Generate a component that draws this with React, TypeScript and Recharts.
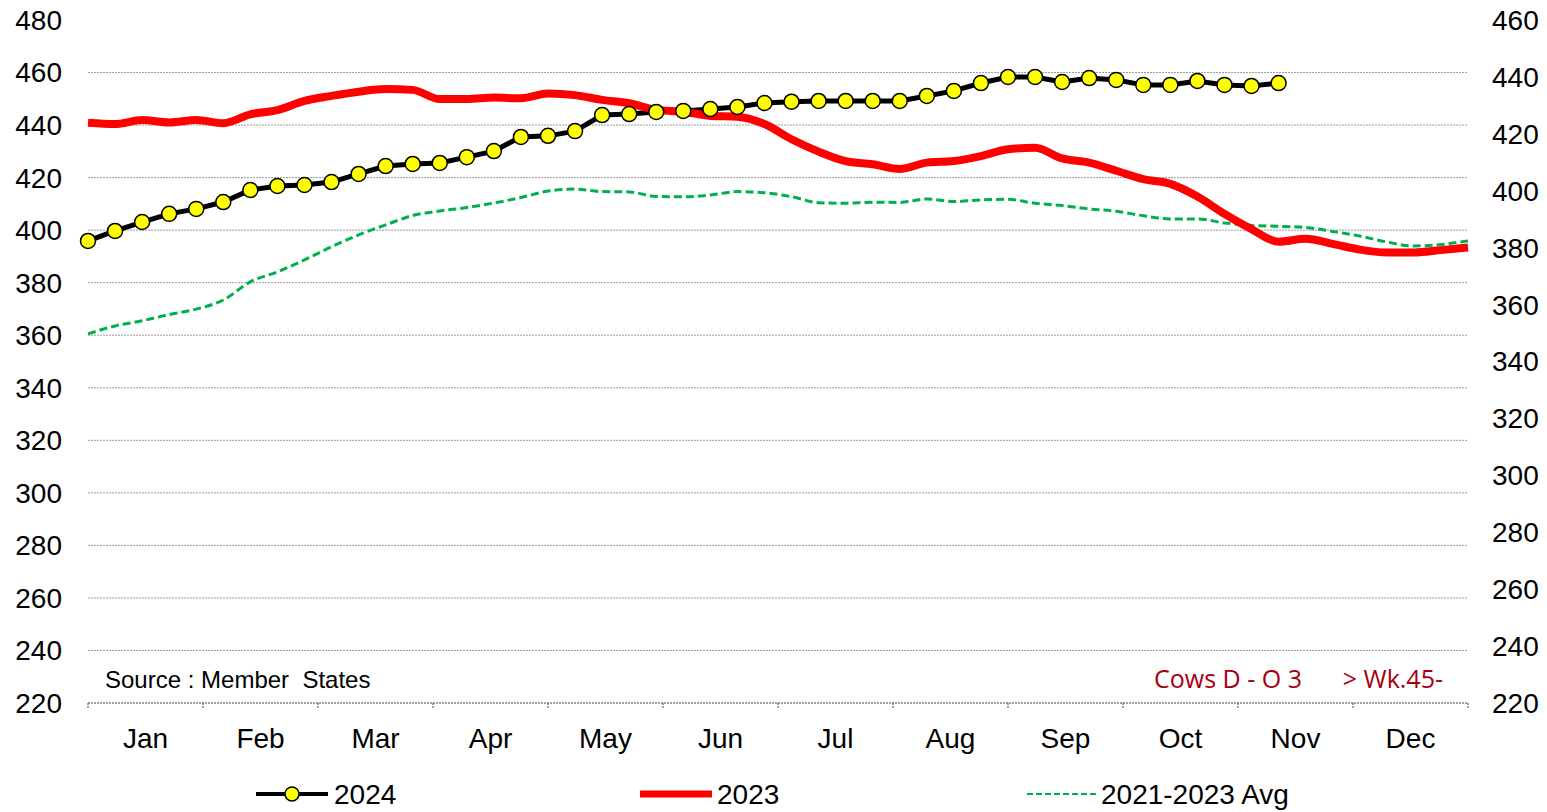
import { LineChart, Line, XAxis, YAxis, CartesianGrid, Customized } from 'recharts';

const weeks = Array.from({ length: 52 }, (_, i) => i + 1);
const months = ['Jan', 'Feb', 'Mar', 'Apr', 'May', 'Jun', 'Jul', 'Aug', 'Sep', 'Oct', 'Nov', 'Dec'];
const monthTicks = [1, 5.25, 9.5, 13.75, 18, 22.25, 26.5, 30.75, 35, 39.25, 43.5, 47.75, 52];
const leftTicks = [220, 240, 260, 280, 300, 320, 340, 360, 380, 400, 420, 440, 460, 480];
const rightTicks = [220, 240, 260, 280, 300, 320, 340, 360, 380, 400, 420, 440, 460];
const gridValues = [240, 260, 280, 300, 320, 340, 360, 380, 400, 420, 440, 460];

// 2024, left axis (wk 1-45)
const s2024 = [
  395.9, 399.7, 403.1, 406.2, 408.1, 410.7, 415.3, 416.8, 417.2, 418.3,
  421.4, 424.4, 425.2, 425.6, 427.8, 430.1, 435.5, 435.9, 437.7, 443.8,
  444.2, 445.0, 445.4, 446.1, 446.9, 448.4, 448.9, 449.2, 449.2, 449.2,
  449.2, 451.1, 453.0, 456.0, 458.3, 458.3, 456.4, 457.9, 457.2, 455.3,
  455.3, 456.8, 455.3, 454.9, 456.0,
];

// 2023, left axis
const s2023 = [
  440.9, 440.4, 441.9, 441.0, 441.9, 440.7, 444.1, 445.7, 449.2, 451.1,
  452.7, 453.7, 453.4, 449.9, 449.9, 450.5, 450.2, 452.0, 451.4, 449.6,
  448.3, 445.8, 445.1, 443.5, 443.2, 440.4, 434.6, 429.9, 426.3, 425.1,
  423.3, 425.7, 426.3, 428.2, 430.8, 431.4, 427.3, 425.7, 422.6, 419.4,
  417.6, 412.8, 406.2, 400.4, 395.6, 396.7, 394.8, 392.6, 391.5, 391.5,
  392.4, 393.4,
];

// 2021-2023 average, right axis
const sAvg = [
  349.7, 352.5, 354.3, 356.5, 358.4, 361.6, 368.0, 371.5, 375.7, 380.3,
  384.5, 388.0, 391.3, 392.9, 394.1, 395.7, 397.6, 399.9, 400.6, 399.7,
  399.6, 398.0, 397.9, 398.5, 399.7, 399.3, 397.9, 395.8, 395.6, 396.0,
  395.9, 397.1, 396.2, 396.8, 397.0, 395.6, 394.8, 393.6, 392.8, 391.2,
  390.1, 390.1, 388.7, 387.8, 387.5, 387.1, 385.7, 384.1, 382.0, 380.6,
  381.1, 382.4,
];

const data = weeks.map((w, i) => ({
  week: w,
  y2024: s2024[i] ?? null,
  y2023: s2023[i] ?? null,
  avg: sAvg[i] ?? null,
}));

const FONT = '"Liberation Sans", Arial, sans-serif';

function MonthTick(props: any) {
  const { x, y, index } = props;
  return (
    <g>
      <line x1={x} y1={y} x2={x} y2={y + 6} stroke="#444" strokeDasharray="2 1" />
      {index < months.length && (
        <text x={x + 57.5} y={y + 45} textAnchor="middle" fontSize={28} fill="#000">
          {months[index]}
        </text>
      )}
    </g>
  );
}

function Notes() {
  return (
    <g>
      <text x={105} y={688} fontSize={24} fill="#000" style={{ whiteSpace: 'pre' }}>
        Source : Member  States
      </text>
      <text x={1154} y={688} fontSize={25} fill="#a50010" fontFamily='"Open Sans", sans-serif'>
        Cows D - O 3
      </text>
      <text x={1443} y={688} fontSize={25} fill="#a50010" textAnchor="end" fontFamily='"Open Sans", sans-serif'>
        {'> Wk.45-'}
      </text>
    </g>
  );
}

const legendText = { position: 'absolute' as const, top: 0, fontSize: 28, lineHeight: '34px', whiteSpace: 'nowrap' as const };

export default function App() {
  return (
    <div style={{ position: 'relative', width: 1547, height: 812, margin: '-8px 0 0 -8px', fontFamily: FONT }}>
      <LineChart width={1547} height={758} data={data} margin={{ top: 20, right: 8, bottom: 0, left: 8 }}>
        <CartesianGrid
          yAxisId="left"
          vertical={false}
          horizontalValues={gridValues}
          stroke="#9a9a9a"
          strokeDasharray="2 1"
        />
        <XAxis
          dataKey="week"
          type="number"
          domain={[1, 52]}
          ticks={monthTicks}
          interval={0}
          height={55}
          tickSize={0}
          tickMargin={0}
          tickLine={false}
          axisLine={{ stroke: '#444', strokeDasharray: '2 1' }}
          tick={<MonthTick />}
        />
        <YAxis
          yAxisId="left"
          domain={[220, 480]}
          ticks={leftTicks}
          interval={0}
          width={80}
          axisLine={false}
          tickLine={false}
          tickSize={0}
          tickMargin={26}
          tick={{ fontSize: 28, fill: '#000' }}
        />
        <YAxis
          yAxisId="right"
          orientation="right"
          domain={[220, 460]}
          ticks={rightTicks}
          interval={0}
          width={71}
          axisLine={false}
          tickLine={false}
          tickSize={0}
          tickMargin={24}
          tick={{ fontSize: 28, fill: '#000', textAnchor: 'start' }}
        />
        <Line
          yAxisId="right"
          dataKey="avg"
          type="monotone"
          stroke="#00b050"
          strokeWidth={3}
          strokeDasharray="8 4"
          dot={false}
          isAnimationActive={false}
        />
        <Line
          yAxisId="left"
          dataKey="y2024"
          type="linear"
          stroke="#000"
          strokeWidth={5}
          dot={{ r: 7.5, fill: '#ffff00', stroke: '#000', strokeWidth: 1.5 }}
          isAnimationActive={false}
        />
        <Line
          yAxisId="left"
          dataKey="y2023"
          type="monotone"
          stroke="#ff0000"
          strokeWidth={8}
          dot={false}
          isAnimationActive={false}
        />
        <Customized component={Notes} />
      </LineChart>
      <div style={{ position: 'absolute', left: 0, top: 778, width: 1547, height: 34 }}>
        <svg style={{ position: 'absolute', left: 256, top: 6 }} width={72} height={20}>
          <line x1={0} y1={10} x2={72} y2={10} stroke="#000" strokeWidth={4} strokeLinecap="round" />
          <circle cx={36} cy={10} r={7} fill="#ffff00" stroke="#000" strokeWidth={1.5} />
        </svg>
        <span style={{ ...legendText, left: 334 }}>2024</span>
        <svg style={{ position: 'absolute', left: 640, top: 6 }} width={72} height={20}>
          <line x1={0} y1={10} x2={72} y2={10} stroke="#ff0000" strokeWidth={7} />
        </svg>
        <span style={{ ...legendText, left: 717 }}>2023</span>
        <svg style={{ position: 'absolute', left: 1027, top: 6 }} width={70} height={20}>
          <line x1={0} y1={10} x2={70} y2={10} stroke="#00b050" strokeWidth={2} strokeDasharray="6 3" />
        </svg>
        <span style={{ ...legendText, left: 1101 }}>2021-2023 Avg</span>
      </div>
    </div>
  );
}
